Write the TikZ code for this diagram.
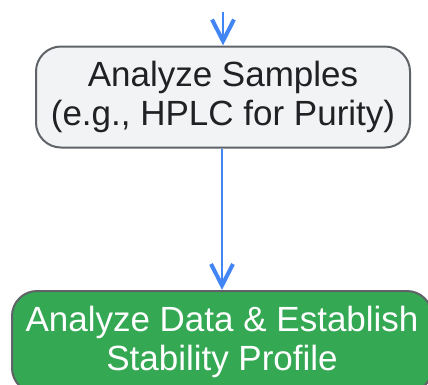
\documentclass[tikz,border=0pt]{standalone}
\usepackage{fontspec}
\setmainfont{Liberation Sans}
\usetikzlibrary{arrows.meta}
\definecolor{flowblue}{HTML}{4285F4}
\definecolor{boxgray}{HTML}{F1F3F4}
\definecolor{edgegray}{HTML}{5F6368}
\definecolor{stepgreen}{HTML}{34A853}
\definecolor{inkdark}{HTML}{202124}
% straight open chevron tip
\pgfdeclarearrow{
  name = flowvee,
  setup code = {
    \pgfarrowssettipend{0pt}
    \pgfarrowssetlineend{-6pt}
    \pgfarrowssetvisualbackend{-20pt}
    \pgfarrowssetbackend{-27pt}
    \pgfarrowshullpoint{0pt}{0pt}
    \pgfarrowsupperhullpoint{-27pt}{12.5pt}
  },
  drawing code = {
    \pgfsetdash{}{0pt}
    \pgfsetlinewidth{4pt}
    \pgfsetmiterjoin
    \pgfsetbuttcap
    \pgfpathmoveto{\pgfpoint{-26pt}{11pt}}
    \pgfpathlineto{\pgfpoint{-4.5pt}{0pt}}
    \pgfpathlineto{\pgfpoint{-26pt}{-11pt}}
    \pgfusepathqstroke
  }
}
\tikzset{
  flow/.style={draw=flowblue,line width=2pt,-flowvee},
  stepbox/.style={draw=edgegray,line width=2pt,rounded corners=25pt,
    align=center,inner sep=0pt,font=\fontsize{35}{39}\selectfont},
}
\begin{document}
\begin{tikzpicture}[x=1pt,y=-1pt]
    \useasboundingbox (0,0) rectangle (428,384);
    \node[stepbox,fill=boxgray,text=inkdark,minimum width=374pt,minimum height=101pt]
      (samples) at (223,97) {Analyze Samples\\(e.g., HPLC for Purity)};
    \node[stepbox,fill=stepgreen,text=white,minimum width=420pt,minimum height=102pt]
      (profile) at (222,342) {Analyze Data \& Establish\\Stability Profile};
    \coordinate (entry) at (223,12);
    \draw[flow] (entry) -- (samples.north);
    \draw[flow] (samples.south -| profile.north) -- (profile.north);
  \end{tikzpicture}
\end{document}
